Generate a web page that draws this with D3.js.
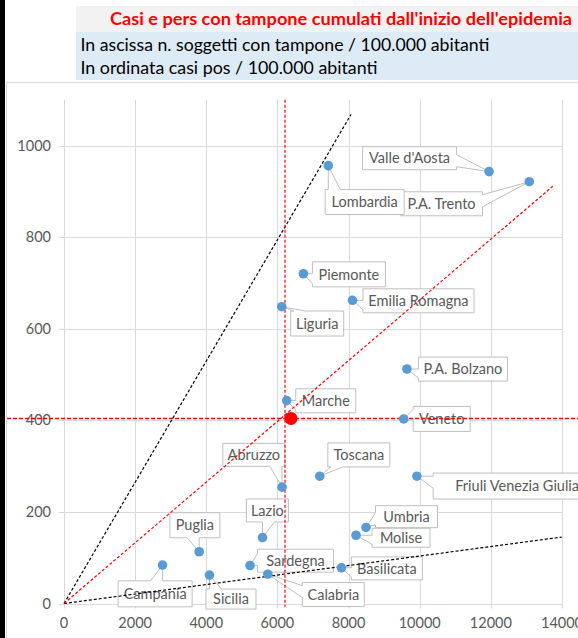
<!DOCTYPE html>
<html>
<head>
<meta charset="utf-8">
<script src="https://cdn.jsdelivr.net/npm/d3@7"></script>
<style>
  body { margin: 0; background: #fff; }
  svg { display: block; font-family: Lato, "Liberation Sans", sans-serif; }
</style>
</head>
<body>
<svg id="chart"></svg>
<script>
// regioni: tamponi (x) e casi positivi (y) ogni 100.000 abitanti
const regions = ["Valle d'Aosta", "P.A. Trento", "Lombardia", "Piemonte", "Emilia Romagna", "Liguria",
  "P.A. Bolzano", "Marche", "Veneto", "Toscana", "Friuli Venezia Giulia", "Umbria", "Molise",
  "Basilicata", "Calabria", "Sardegna", "Abruzzo", "Lazio", "Puglia", "Campania", "Sicilia"];
const tamponi = [11950, 13080, 7430, 6730, 8110, 6120, 9640, 6260, 9550, 7190, 9920, 8490, 8210,
  7800, 5730, 5230, 6130, 5580, 3800, 2770, 4090];
const casi = [943, 921, 956, 720, 662, 648, 512, 443, 403, 278, 278, 166, 149, 78, 64, 83, 254, 144, 113, 84, 62];

// media Italia
const italia = [6380, 404];
const mediaX = 6213, mediaY = 406;

// rette tratteggiate dall'origine: [x fine, y fine]
const blackLines = [[8070, 1068], [13990, 145]];
const redLine = [13740, 911];

const xTicks = [0, 2000, 4000, 6000, 8000, 10000, 12000, 14000];
const yTicks = [0, 200, 400, 600, 800, 1000];

// posizione etichette: centro box rispetto al punto (px), larghezza, altezza
const labelLayout = [
  [-79.5, -13.4, 94, 23], [-87.8, 22.1, 82, 24], [36.4, 36.4, 79, 25], [45.5, 0.6, 73, 25],
  [66, 0.5, 111, 24], [35.5, 16.8, 53, 25], [56, 0.1, 89, 24], [39.1, 0.2, 60, 24],
  [38, 0, 57, 25], [39.1, -21.3, 62, 24], [100.3, 9.9, 168, 26], [40.5, -10.8, 62, 22],
  [45, 2.5, 58, 19], [45.4, 0.6, 71, 23], [65.5, 20.4, 62, 24], [45.5, -4.8, 76, 23],
  [-28.2, -32.3, 62, 23], [4.9, -27.1, 42, 23], [-4.3, -26.5, 50, 25], [-7.4, 28.8, 74, 26],
  [21.5, 24, 50, 20]
];

const W = 578, H = 638;
const svg = d3.select("#chart").attr("width", W).attr("height", H);

// cornice e barra nera a sinistra
svg.append("rect").attr("x", 6.5).attr("y", 82.5).attr("width", W).attr("height", H)
    .attr("fill", "#fff").attr("stroke", "#d9d9d9");
svg.append("rect").attr("x", 0).attr("y", 0).attr("width", 5).attr("height", H).attr("fill", "#000");

// intestazione
svg.append("rect").attr("x", 76).attr("y", 6).attr("width", W - 76).attr("height", 26).attr("fill", "#f2f2f2");
svg.append("rect").attr("x", 76).attr("y", 32).attr("width", W - 76).attr("height", 48).attr("fill", "#ddebf7");
svg.append("text").attr("x", 110).attr("y", 24.5).attr("font-size", 16.5).attr("font-weight", "bold")
    .attr("fill", "#ff0000").attr("textLength", 462).attr("lengthAdjust", "spacingAndGlyphs")
    .text("Casi e pers con tampone cumulati dall'inizio dell'epidemia");
svg.append("text").attr("x", 80.5).attr("y", 51).attr("font-size", 17).attr("fill", "#000")
    .attr("textLength", 409).attr("lengthAdjust", "spacingAndGlyphs")
    .text("In ascissa n. soggetti con tampone / 100.000 abitanti");
svg.append("text").attr("x", 80.5).attr("y", 74).attr("font-size", 17).attr("fill", "#000")
    .attr("textLength", 297).attr("lengthAdjust", "spacingAndGlyphs")
    .text("In ordinata casi pos / 100.000 abitanti");

const x = d3.scaleLinear().domain([0, 14000]).range([64, 562]);
const y = d3.scaleLinear().domain([0, 1100]).range([603.5, 99.7]);

// griglia
const grid = svg.append("g").attr("stroke", "#d9d9d9").attr("stroke-width", 1);
grid.selectAll(".v").data(xTicks).enter().append("line")
    .attr("x1", d => Math.round(x(d)) + 0.5).attr("x2", d => Math.round(x(d)) + 0.5)
    .attr("y1", y(1100)).attr("y2", y(0) + 5);
grid.selectAll(".h").data(yTicks).enter().append("line")
    .attr("y1", d => Math.round(y(d)) + 0.5).attr("y2", d => Math.round(y(d)) + 0.5)
    .attr("x1", x(0) - 5).attr("x2", x(14000));

svg.append("g").selectAll("text").data(yTicks).enter().append("text")
    .attr("x", 51).attr("y", d => y(d)).attr("dy", "0.35em").attr("text-anchor", "end")
    .attr("font-size", 14.5).attr("fill", "#595959").text(d => d);
svg.append("g").selectAll("text").data(xTicks).enter().append("text")
    .attr("x", d => x(d)).attr("y", 628).attr("text-anchor", "middle")
    .attr("font-size", 14.5).attr("fill", "#595959").text(d => d);

// etichette a fumetto
const pts = regions.map((name, i) => ({ name, px: x(tamponi[i]), py: y(casi[i]), lay: labelLayout[i] }));

function calloutPath(d) {
  const [dx, dy, w, h] = d.lay;
  const cx = d.px + dx, cy = d.py + dy;
  const x0 = cx - w / 2, x1 = cx + w / 2, y0 = cy - h / 2, y1 = cy + h / 2;
  const nx = (d.px - cx) / (w / 2), ny = (d.py - cy) / (h / 2);
  const tip = d.px + "," + d.py;
  const base = (t, lo, hi, c) => {
    t = Math.max(lo + 3, Math.min(hi - 3, t));
    let t2 = t + (c > t ? 12 : -12);
    t2 = Math.max(lo + 3, Math.min(hi - 3, t2));
    return [Math.min(t, t2), Math.max(t, t2)];
  };
  if (Math.abs(ny) > Math.abs(nx)) {
    const [a, b] = base(d.px, x0, x1, cx);
    if (ny < 0) return `M${x0},${y0}L${a},${y0}L${tip}L${b},${y0}L${x1},${y0}L${x1},${y1}L${x0},${y1}Z`;
    return `M${x0},${y0}L${x1},${y0}L${x1},${y1}L${b},${y1}L${tip}L${a},${y1}L${x0},${y1}Z`;
  }
  const [a, b] = base(d.py, y0, y1, cy);
  if (nx > 0) return `M${x0},${y0}L${x1},${y0}L${x1},${a}L${tip}L${x1},${b}L${x1},${y1}L${x0},${y1}Z`;
  return `M${x0},${y0}L${x1},${y0}L${x1},${y1}L${x0},${y1}L${x0},${b}L${tip}L${x0},${a}Z`;
}

const labels = svg.append("g").selectAll("g").data(pts).enter().append("g");
labels.append("path").attr("d", calloutPath)
    .attr("fill", "#fff").attr("stroke", "#bfbfbf").attr("stroke-width", 1);
labels.append("text")
    .attr("x", d => d.px + d.lay[0]).attr("y", d => d.py + d.lay[1]).attr("dy", "0.36em")
    .attr("text-anchor", "middle").attr("font-size", 14.5).attr("fill", "#595959")
    .text(d => d.name);

// rette
const lines = svg.append("g").attr("fill", "none").attr("stroke-width", 1.2).attr("stroke-dasharray", "3,2");
lines.selectAll(".b").data(blackLines).enter().append("line")
    .attr("x1", x(0)).attr("y1", y(0)).attr("x2", d => x(d[0])).attr("y2", d => y(d[1]))
    .attr("stroke", "#000");
lines.append("line").attr("x1", x(0)).attr("y1", y(0)).attr("x2", x(redLine[0])).attr("y2", y(redLine[1]))
    .attr("stroke", "#ff0000");
lines.append("line").attr("x1", x(mediaX)).attr("x2", x(mediaX)).attr("y1", y(1100)).attr("y2", y(-7))
    .attr("stroke", "#ff0000");
lines.append("line").attr("y1", Math.round(y(mediaY)) + 0.5).attr("y2", Math.round(y(mediaY)) + 0.5)
    .attr("x1", x(-1600)).attr("x2", W)
    .attr("stroke", "#ff0000").attr("stroke-width", 1.5).attr("stroke-dasharray", "4,2");

// punti
svg.append("g").selectAll("circle").data(pts).enter().append("circle")
    .attr("cx", d => d.px).attr("cy", d => d.py).attr("r", 4.8).attr("fill", "#5b9bd5");
svg.append("circle").attr("cx", x(italia[0])).attr("cy", y(italia[1])).attr("r", 6.5).attr("fill", "#ff0000");
</script>
</body>
</html>
